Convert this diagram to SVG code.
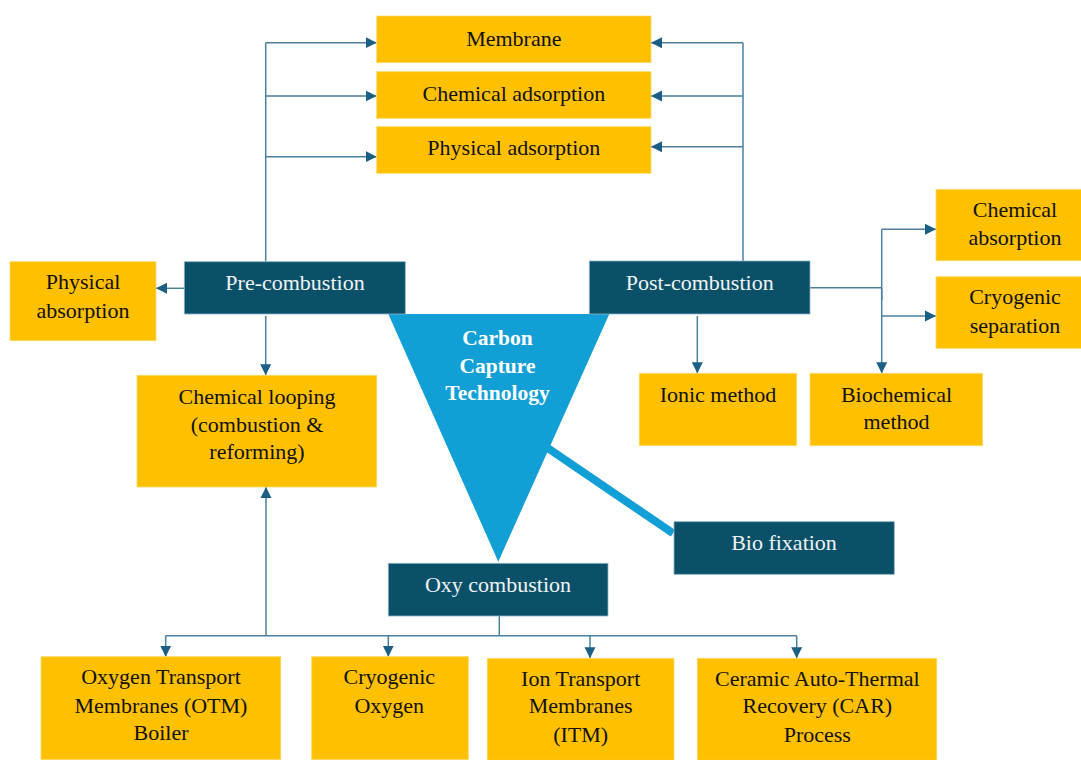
<svg xmlns="http://www.w3.org/2000/svg" width="1081" height="760" viewBox="0 0 1081 760">
<defs>
<marker id="ah" markerUnits="userSpaceOnUse" markerWidth="12" markerHeight="12" viewBox="0 0 12 12" refX="11" refY="6" orient="auto">
<path d="M0,0.5 L11,6 L0,11.5 Z" fill="#1b5f84"/>
</marker>
<style>
.y{fill:#FFC000;stroke:#FFD966;stroke-width:0.8}
.d{fill:#0B5069;stroke:#8fb3c6;stroke-width:0.8}
.t{font-family:"Liberation Serif","Times New Roman",serif;font-size:22px;fill:#111;text-anchor:middle}
.w{font-family:"Liberation Serif","Times New Roman",serif;font-size:22px;fill:#f0f4f6;text-anchor:middle}
.b{font-family:"Liberation Serif","Times New Roman",serif;font-size:21.5px;font-weight:bold;fill:#fff;text-anchor:middle}
.c{fill:none;stroke:#4a80a0;stroke-width:1.5}
.ca{fill:none;stroke:#4a80a0;stroke-width:1.5;marker-end:url(#ah)}
</style>
</defs>
<rect width="1081" height="760" fill="#fff"/>

<g id="connectors">
<path class="c" d="M265.7,261.7 V42.7"/>
<path class="ca" d="M265.7,42.7 H376.7"/>
<path class="ca" d="M265.7,96 H376.7"/>
<path class="ca" d="M265.7,156.7 H376.7"/>
<path class="c" d="M743,261 V42.7"/>
<path class="ca" d="M743,42.7 H651"/>
<path class="ca" d="M743,96 H651"/>
<path class="ca" d="M743,146.7 H651"/>
<path class="ca" d="M184.3,288.3 H156"/>
<path class="ca" d="M265.7,316 V375.3"/>
<path class="c" d="M810,287.7 H881.7"/>
<path class="c" d="M881.7,229.3 V300"/>
<path class="ca" d="M881.7,229.3 H936"/>
<path class="ca" d="M881.7,316 H936"/>
<path class="ca" d="M881.7,287.7 V373.3"/>
<path class="ca" d="M697.3,316 V373.3"/>
<path class="c" d="M499.3,616 V635.7"/>
<path class="c" d="M165.7,635.7 H796.7"/>
<path class="ca" d="M165.7,635.7 V656.7"/>
<path class="ca" d="M388.3,635.7 V656.7"/>
<path class="ca" d="M590,635.7 V658.3"/>
<path class="ca" d="M796.7,635.7 V658.3"/>
<path class="ca" d="M266,635.7 V487"/>
<path d="M548,448.3 L673,533.3" stroke="#129FD6" stroke-width="8" fill="none"/>
</g>

<g id="triangle">
<path d="M388.3,314 L609.3,314 L498.3,561.7 Z" fill="#129FD6"/>
<text class="b" x="497.5" y="344.5">Carbon</text>
<text class="b" x="497.5" y="372.5">Capture</text>
<text class="b" x="497.5" y="400">Technology</text>
</g>

<g id="membrane"><rect class="y" x="376.7" y="16" width="274.3" height="46.7"/><text class="t" x="513.8" y="45.7">Membrane</text></g>
<g id="chem-adsorption"><rect class="y" x="376.7" y="71.7" width="274.3" height="46.6"/><text class="t" x="513.8" y="100.7">Chemical adsorption</text></g>
<g id="phys-adsorption"><rect class="y" x="376.7" y="126.7" width="274.3" height="46.6"/><text class="t" x="513.8" y="155">Physical adsorption</text></g>

<g id="pre-combustion"><rect class="d" x="184.3" y="261.7" width="221" height="52.3"/><text class="w" x="295" y="290">Pre-combustion</text></g>
<g id="phys-absorption"><rect class="y" x="10" y="261.7" width="146" height="79"/><text class="t" x="83" y="289.3">Physical</text><text class="t" x="83" y="317.7">absorption</text></g>
<g id="chem-looping"><rect class="y" x="137" y="375.3" width="239.7" height="111.7"/><text class="t" x="257" y="404">Chemical looping</text><text class="t" x="257" y="431.7">(combustion &amp;</text><text class="t" x="257" y="459">reforming)</text></g>

<g id="post-combustion"><rect class="d" x="589.3" y="261" width="220.7" height="53"/><text class="w" x="699.7" y="290">Post-combustion</text></g>
<g id="chem-absorption"><rect class="y" x="936" y="189.3" width="150" height="71.4"/><text class="t" x="1015" y="216.7">Chemical</text><text class="t" x="1015" y="245">absorption</text></g>
<g id="cryo-separation"><rect class="y" x="936" y="276.7" width="150" height="71.6"/><text class="t" x="1015" y="304">Cryogenic</text><text class="t" x="1015" y="332.7">separation</text></g>
<g id="ionic"><rect class="y" x="639.3" y="373.3" width="157.4" height="72.4"/><text class="t" x="718" y="401.7">Ionic method</text></g>
<g id="biochemical"><rect class="y" x="810" y="373.3" width="172.7" height="72.4"/><text class="t" x="896.5" y="401.7">Biochemical</text><text class="t" x="896.5" y="429.3">method</text></g>

<g id="bio-fixation"><rect class="d" x="674" y="521.7" width="220.3" height="52.6"/><text class="w" x="784" y="550">Bio fixation</text></g>
<g id="oxy-combustion"><rect class="d" x="388.3" y="563.3" width="219.7" height="52.7"/><text class="w" x="498" y="591.7">Oxy combustion</text></g>

<g id="otm"><rect class="y" x="41" y="656.7" width="239.7" height="103"/><text class="t" x="161" y="684.3">Oxygen Transport</text><text class="t" x="161" y="712.7">Membranes (OTM)</text><text class="t" x="161" y="740">Boiler</text></g>
<g id="cryo-oxygen"><rect class="y" x="311.7" y="656.7" width="156.6" height="103"/><text class="t" x="389.3" y="684.3">Cryogenic</text><text class="t" x="389.3" y="712.7">Oxygen</text></g>
<g id="itm"><rect class="y" x="487.3" y="658.3" width="186.7" height="102"/><text class="t" x="580.7" y="686">Ion Transport</text><text class="t" x="580.7" y="713.3">Membranes</text><text class="t" x="580.7" y="741.7">(ITM)</text></g>
<g id="car"><rect class="y" x="697.3" y="658.3" width="239.4" height="102"/><text class="t" x="817.3" y="686">Ceramic Auto-Thermal</text><text class="t" x="817.3" y="713.3">Recovery (CAR)</text><text class="t" x="817.3" y="741.7">Process</text></g>
</svg>
